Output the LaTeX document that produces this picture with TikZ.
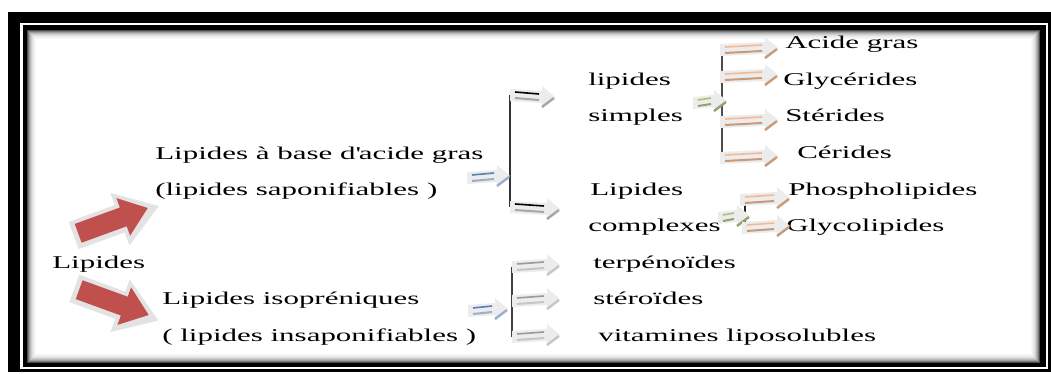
\documentclass[tikz,border=0pt]{standalone}
\usepackage{fontspec}
\setmainfont[FakeStretch=1.72]{Liberation Serif}
\usetikzlibrary{calc}
\definecolor{OffRot}{HTML}{C0504D}
\definecolor{BlauOben}{HTML}{5A7FB5}
\definecolor{BlauUnten}{HTML}{9AAFCB}
\definecolor{GruenOben}{HTML}{A9C27A}
\definecolor{GruenUnten}{HTML}{8FA46E}
\definecolor{OrangeOben}{HTML}{F5B895}
\definecolor{OrangeUnten}{HTML}{C89A78}
\newcommand{\pfeil}[4]{%
  \path (#3) coordinate (pA) (#4) coordinate (pB);
  \fill[gray!15] ($(pA)+(0,-6)$) -- ($(pB)+(-13,-6)$) -- ($(pB)+(-13,-11)$)
    -- (pB) -- ($(pB)+(-13,11)$) -- ($(pB)+(-13,6)$) -- ($(pA)+(0,6)$) -- cycle;
  \draw[#1, line width=1.2] ($(pA)+(5,-3)$) -- ($(pB)+(-16,-3)$);
  \draw[#2, line width=1.5] ($(pA)+(5,3)$) -- ($(pB)+(-16,3)$);
  \draw[#2, line width=1.8] ($(pB)+(-13,10)$) -- ($(pB)+(-1,1)$);}
\newcommand{\blockpfeil}[2]{%
  \begin{scope}[shift={(#2)}, rotate=#1]
    \fill[gray!22] (-41,-14) -- (8,-14) -- (8,-27) -- (49,2) -- (8,29)
      -- (8,15) -- (-41,15) -- cycle;
    \fill[OffRot] (-36,-10) -- (12,-10) -- (12,-20) -- (38,0) -- (12,20)
      -- (12,10) -- (-36,10) -- cycle;
  \end{scope}}
\tikzset{txt/.style={anchor=base west, inner sep=0pt,
  font=\fontsize{13.5}{16}\selectfont}}

\begin{document}
\begin{tikzpicture}[x=0.75pt, y=-0.75pt]
\useasboundingbox (0,0) rectangle (1051,374);

% ====================================================================
%
%         Rahmen
%
% ====================================================================

  \fill[black] (8,12) rectangle (1051,372);
  \fill[white] (20,23) rectangle (1048,369);
  \fill[black] (23,25) rectangle (1046,367);
  \fill[white] (27,30) rectangle (1040,363);
  \foreach \i/\c in {0/70,1/52,2/38,3/27,4/19,5/13,6/8,7/5,8/3}
    \draw[black!\c, line width=0.75pt]
      (27.5+\i,30.5+\i) rectangle (1039.5-\i,362.5-\i);

% ====================================================================
%
%         Texte
%
% ====================================================================

  \node[txt] (lip) at (52,269) {Lipides};
  \node[txt] (basis) at (155,160) {Lipides à base d\textquotesingle acide gras};
  \node[txt] (sapo) at (155,196) {(lipides saponifiables )};
  \node[txt] (iso) at (162,305) {Lipides isopréniques};
  \node[txt] (insapo) at (162,342) {( lipides insaponifiables )};

  \node[txt] (simp1) at (588,86) {lipides};
  \node[txt] (simp2) at (588,122) {simples};
  \node[txt] (comp1) at (590,196) {Lipides};
  \node[txt] (comp2) at (588,232) {complexes};

  \node[txt] (acide) at (785,49) {Acide gras};
  \node[txt] (glyce) at (783,86) {Glycérides};
  \node[txt] (steri) at (785,122) {Stérides};
  \node[txt] (ceri) at (797,159) {Cérides};
  \node[txt] (phos) at (788,196) {Phospholipides};
  \node[txt] (glyco) at (786,232) {Glycolipides};

  \node[txt] (terp) at (593,269) {terpénoïdes};
  \node[txt] (stero) at (593,305) {stéroïdes};
  \node[txt] (vita) at (598,342) {vitamines liposolubles};

% ====================================================================
%
%         Pfeile
%
% ====================================================================

  % rote Pfeile
  \blockpfeil{20}{112,221}
  \blockpfeil{-20}{113,302}

  % Klammer saponifiables
  \coordinate (k1o) at (510,95);
  \coordinate (k1u) at (510,207);
  \draw[black!80, line width=1.1] (k1o) -- (k1u);
  \pfeil{BlauOben}{BlauUnten}{467,178}{510,176}
  \pfeil{black}{gray!70}{k1o}{555,97}
  \pfeil{black}{gray!70}{k1u}{560,209}

  % Klammer simples
  \coordinate (k2o) at (722,44);
  \coordinate (k2u) at (722,160);
  \draw[black!70, line width=1.1] (k2o) -- (k2u);
  \pfeil{GruenOben}{GruenUnten}{693,103}{727,101}
  \pfeil{OrangeOben}{OrangeUnten}{720,50}{778,48}
  \pfeil{OrangeOben}{OrangeUnten}{720,77}{778,75}
  \pfeil{OrangeOben}{OrangeUnten}{720,122}{778,120}
  \pfeil{OrangeOben}{OrangeUnten}{720,158}{778,156}

  % Klammer complexes
  \coordinate (k3o) at (745,200);
  \coordinate (k3u) at (745,223);
  \draw[black!85, line width=1.1] (k3o) -- (k3u);
  \pfeil{GruenOben}{GruenUnten}{718,218}{750,216}
  \pfeil{OrangeOben}{OrangeUnten}{740,200}{790,198}
  \pfeil{OrangeOben}{OrangeUnten}{742,228}{790,226}

  % Klammer isopreniques
  \coordinate (k4o) at (512,267);
  \coordinate (k4u) at (512,337);
  \draw[black!75, line width=1.1] (k4o) -- (k4u);
  \pfeil{BlauOben}{BlauUnten}{468,311}{508,309}
  \pfeil{gray!80}{gray!45}{k4o}{560,265}
  \pfeil{gray!80}{gray!45}{512,301}{560,299}
  \pfeil{gray!80}{gray!45}{k4u}{560,335}

\end{tikzpicture}
\end{document}
